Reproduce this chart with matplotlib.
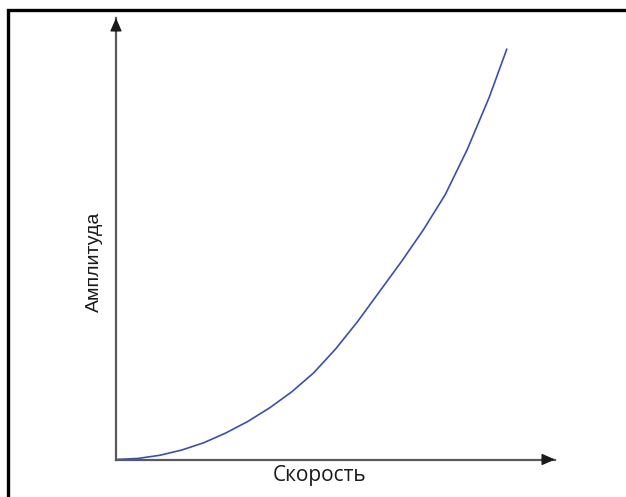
import numpy as np
import matplotlib
matplotlib.use("Agg")
import matplotlib.pyplot as plt
from matplotlib.patches import Rectangle

# curve (axis units 0..10)
speed = [0.0, 0.5, 1.0, 1.5, 2.0, 2.5, 3.0, 3.5, 4.0, 4.5,
         5.0, 5.5, 6.0, 6.5, 7.0, 7.5, 8.0, 8.5, 8.9]
amplitude = [0.0, 0.024, 0.096, 0.215, 0.38, 0.60, 0.86, 1.17, 1.53, 1.96,
             2.50, 3.12, 3.80, 4.48, 5.20, 6.00, 7.02, 8.20, 9.29]

x_label = "Скорость"
y_label = "Амплитуда"

plt.rcParams["font.family"] = ["Open Sans", "DejaVu Sans"]

fig = plt.figure(figsize=(6.26, 4.97), dpi=100)
W, H = 626, 497

# outer frame, open towards right/bottom edge like the original crop
fig.patches.append(Rectangle((7.5 / W, -0.1), 1.2, 1.1 - 9.5 / H,
                             transform=fig.transFigure, fill=False,
                             edgecolor="black", linewidth=2.4))

ax = fig.add_axes([116 / W, (H - 459.5) / H, (555 - 116) / W, (459.5 - 18) / H])
ax.set_xlim(0, 10)
ax.set_ylim(0, 10)
ax.axis("off")

ax.plot(speed, amplitude, color="#3a50a8", lw=1.2, solid_joinstyle="round")

# axes with arrow heads
ax.plot([0, 1], [0, 0], transform=ax.transAxes, color="#5a5a5a", lw=1.6, clip_on=False)
ax.plot([0, 0], [0, 1], transform=ax.transAxes, color="#5a5a5a", lw=1.6, clip_on=False)
head = dict(arrowstyle="-|>,head_length=0.8,head_width=0.35", color="#1a1a1a", lw=1,
            shrinkA=0, shrinkB=0)
ax.annotate("", xy=(1, 0), xytext=(0.97, 0), xycoords="axes fraction", arrowprops=head)
ax.annotate("", xy=(0, 1), xytext=(0, 0.97), xycoords="axes fraction", arrowprops=head)

fig.text(320 / W, 1 - 481 / H, x_label, ha="center", va="baseline", fontsize=15,
         color="#1a1a1a")
fig.text(94.5 / W, 1 - 262 / H, y_label, ha="center", va="center", rotation=90,
         fontsize=14, color="#1a1a1a", family=["Liberation Sans", "DejaVu Sans"])

fig.savefig("out.png", dpi=100)
